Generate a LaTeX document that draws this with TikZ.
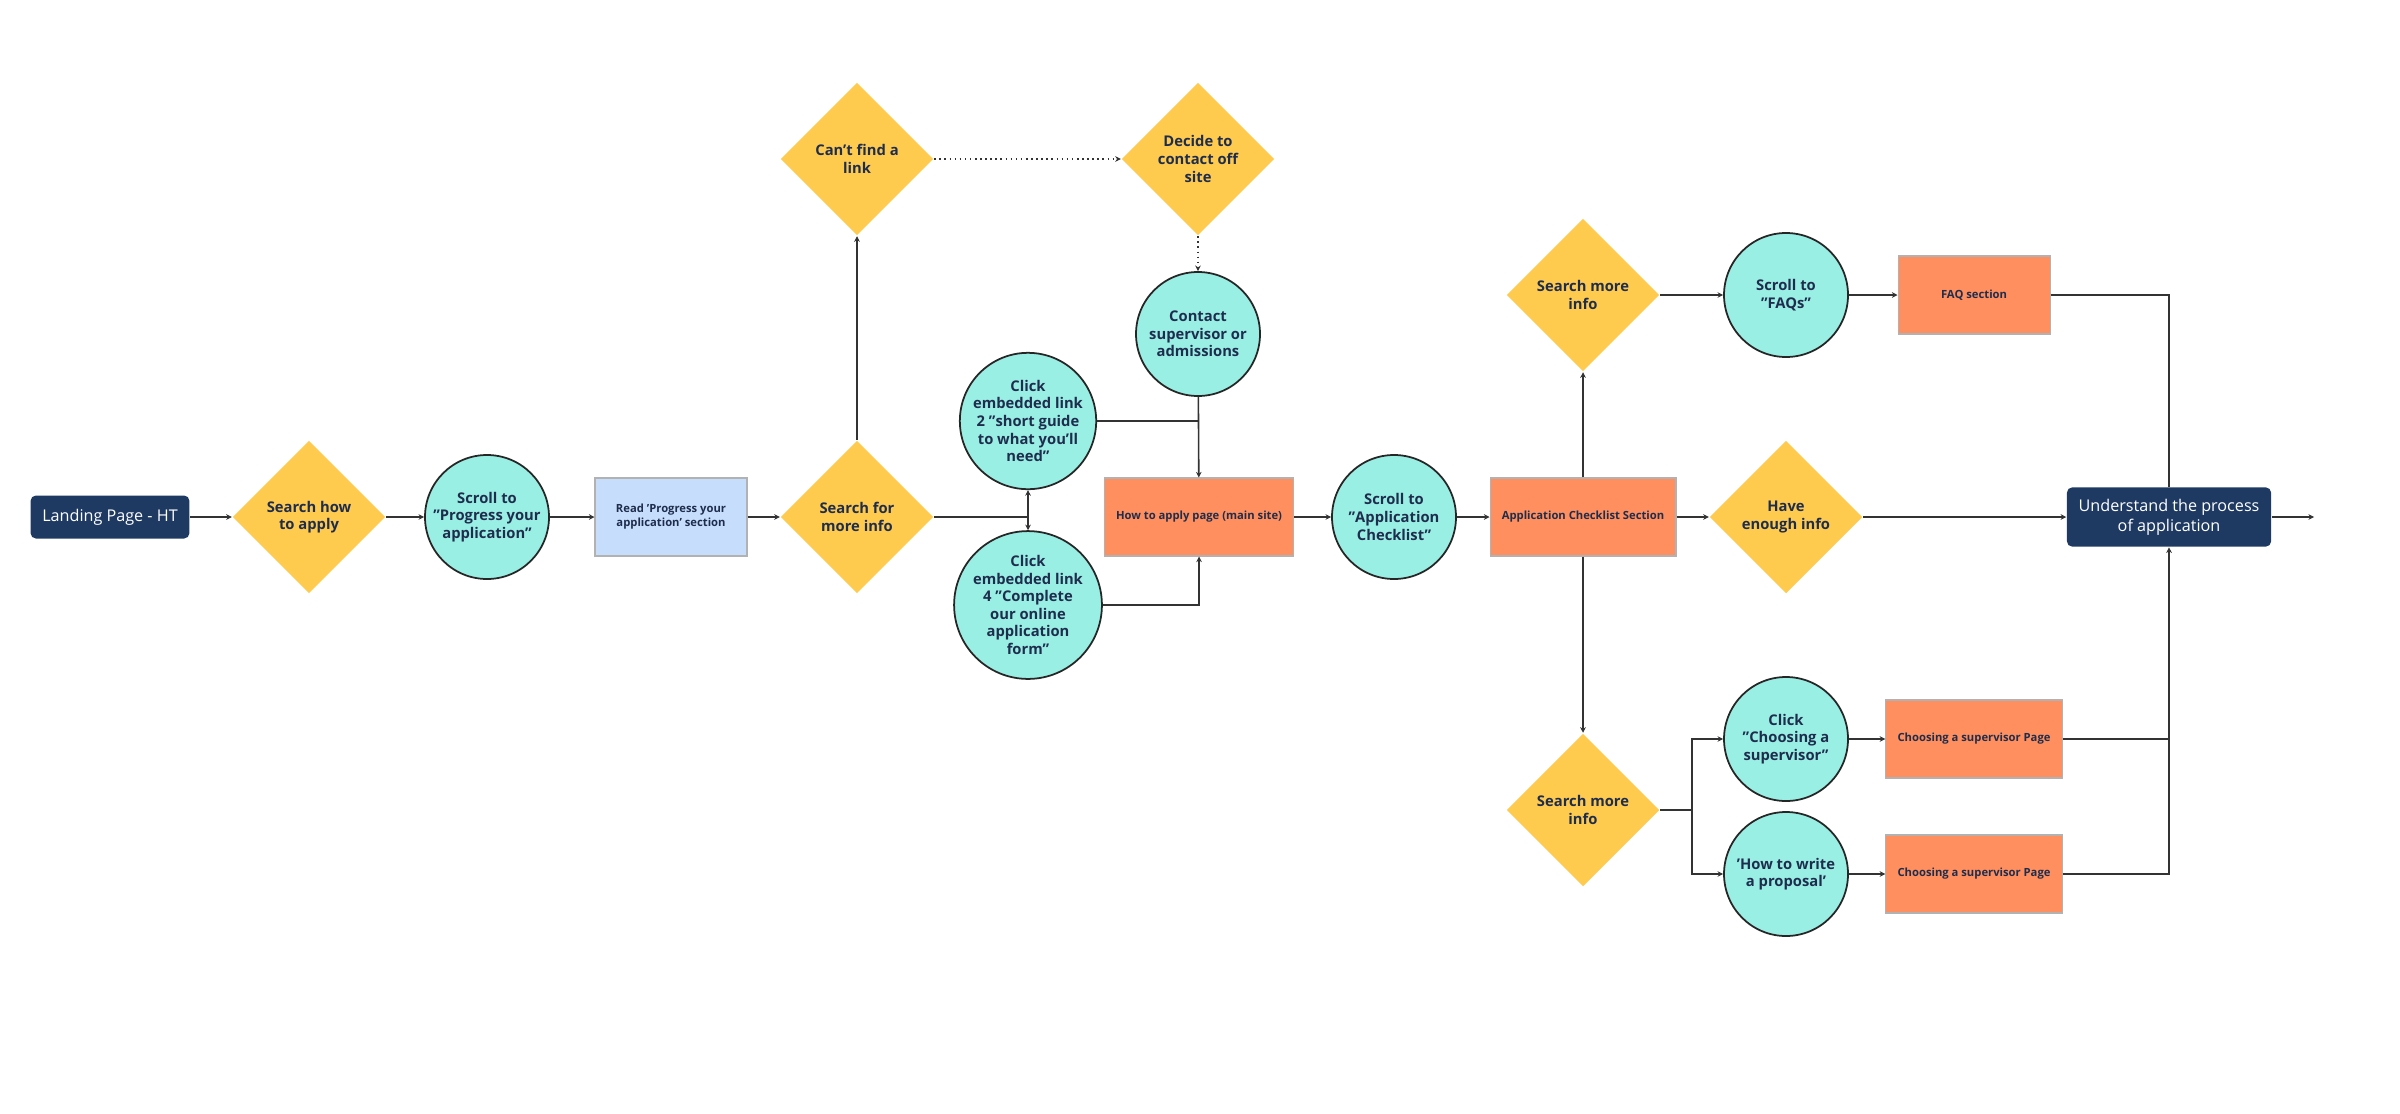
\documentclass[tikz,border=0pt]{standalone}
\usepackage{fontspec}
\setmainfont{Open Sans}
\usetikzlibrary{shapes.geometric,arrows.meta}
\definecolor{dyel}{HTML}{FFCB4F}
\definecolor{ccyan}{HTML}{9AEFE5}
\definecolor{borg}{HTML}{FF8F5E}
\definecolor{lblue}{HTML}{C6DEFC}
\definecolor{navy}{HTML}{1E3A62}
\definecolor{ink}{HTML}{1F2D4D}
\tikzset{
  every node/.style={align=center,text=ink,font=\fontsize{4.2}{5}\selectfont\bfseries},
  dec/.style={diamond,fill=dyel,minimum width=1.53cm,minimum height=1.53cm,inner sep=0pt},
  act/.style={circle,draw=black!85,line width=0.5pt,fill=ccyan,minimum size=1.24cm,inner sep=0pt},
  page/.style={rectangle,draw=black!30,line width=0.3pt,fill=borg,minimum width=1.52cm,minimum height=0.78cm,font=\fontsize{3.2}{4}\selectfont\bfseries},
  term/.style={rectangle,rounded corners=1.5pt,fill=navy,text=white,minimum width=1.47cm,minimum height=0.43cm,font=\fontsize{4.6}{5.6}\selectfont},
  link/.style={-{Stealth[length=1.6pt,width=1.6pt]},line width=0.45pt,draw=black!80},
  plain/.style={line width=0.45pt,draw=black!80},
}
\begin{document}
\begin{tikzpicture}
\useasboundingbox (0,0) rectangle (24,11.13);

\node[term] (land) at (1.10,5.96) {Landing Page - HT};
\node[dec] (how) at (3.09,5.96) {Search how\\to apply};
\node[act] (prog) at (4.87,5.96) {Scroll to\\"Progress your\\application"};
\node[page,fill=lblue] (read) at (6.71,5.96) {Read 'Progress your\\application' section};
\node[dec] (sfor) at (8.57,5.96) {Search for\\more info};
\node[dec] (cant) at (8.57,9.54) {Can't find a\\link};
\node[dec] (decide) at (11.98,9.54) {Decide to\\contact off\\site};
\node[act] (contact) at (11.98,7.79) {Contact\\supervisor or\\admissions};
\node[act] (click2) at (10.28,6.92) {Click\\embedded link\\2 "short guide\\to what you'll\\need"};
\node[act] (click4) at (10.28,5.08) {Click\\embedded link\\4 "Complete\\our online\\application\\form"};
\node[page] (apply) at (11.99,5.96) {How to apply page (main site)};
\coordinate (jn) at (10.28,5.96);

\node[act] (scapp) at (13.94,5.96) {Scroll to\\"Application\\Checklist"};
\node[page] (check) at (15.83,5.96) {Application Checklist Section};
\node[dec] (smtop) at (15.83,8.18) {Search more\\info};
\node[act] (faqs) at (17.86,8.18) {Scroll to\\"FAQs"};
\node[page] (faq) at (19.74,8.18) {FAQ section};
\node[dec] (enough) at (17.86,5.96) {Have\\enough info};
\node[term] (und) at (21.69,5.96) {Understand the process\\of application};
\coordinate (out) at (23.14,5.96);

\node[dec] (smbot) at (15.83,3.03) {Search more\\info};
\node[act] (csup) at (17.86,3.74) {Click\\"Choosing a\\supervisor"};
\node[act] (prop) at (17.86,2.39) {'How to write\\a proposal'};
\node[page] (csp1) at (19.74,3.74) {Choosing a supervisor Page};
\node[page] (csp2) at (19.74,2.39) {Choosing a supervisor Page};
\coordinate (jb) at (16.92,3.03);

\draw[link] (land) -- (how);
\draw[link] (how) -- (prog);
\draw[link] (prog) -- (read);
\draw[link] (read) -- (sfor);
\draw[link] (sfor) -- (cant);
\draw[link,densely dotted] (cant) -- (decide);
\draw[link,densely dotted] (decide) -- (contact);
\draw[plain] (sfor.east) -- (jn);
\draw[link] (jn) -- (click2);
\draw[link] (jn) -- (click4);
\draw[link] (contact) -- (apply);
\draw[plain] (click2.east) -- (click2.east -| apply);
\draw[link] (click4.east) -| (apply.south);

\draw[link] (apply) -- (scapp);
\draw[link] (scapp) -- (check);
\draw[link] (check) -- (enough);
\draw[link] (enough) -- (und);
\draw[link] (und) -- (out);
\draw[link] (check) -- (smtop);
\draw[link] (check) -- (smbot);
\draw[link] (smtop) -- (faqs);
\draw[link] (faqs) -- (faq);
\draw[plain] (faq.east) -| (und.north);

\draw[plain] (smbot.east) -- (jb);
\draw[link] (jb) |- (csup);
\draw[link] (jb) |- (prop);
\draw[link] (csup) -- (csp1);
\draw[link] (prop) -- (csp2);
\draw[plain] (csp1.east) -- (csp1.east -| und);
\draw[link] (csp2.east) -| (und.south);
\end{tikzpicture}
\end{document}
